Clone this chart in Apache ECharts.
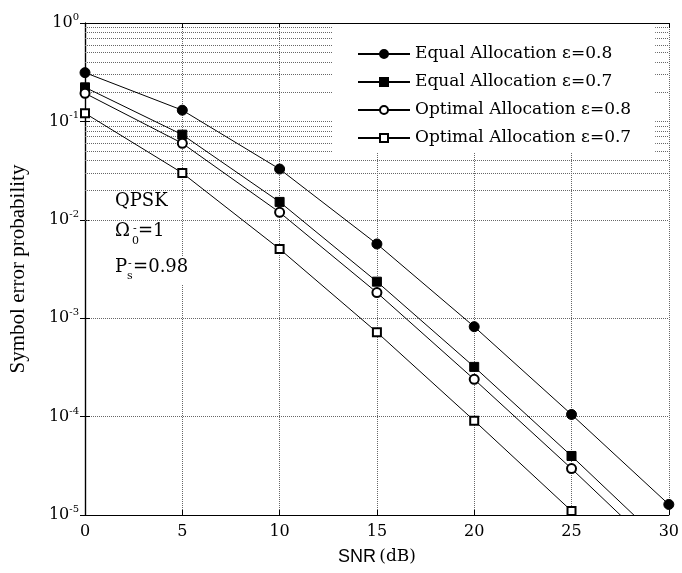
<!DOCTYPE html>
<html>
<head>
<meta charset="utf-8">
<script src="https://cdn.jsdelivr.net/npm/echarts@6/dist/echarts.min.js"></script>
<style>
  html, body { margin: 0; padding: 0; background: #fff; }
  #main { width: 682px; height: 573px; }
</style>
</head>
<body>
<div id="main"></div>
<script>
// SNR (dB) points
let snr = [0, 5, 10, 15, 20, 25, 30];
// values (below 1e-5 the lines are clipped by the axis)
let equal08 = [0.313, 0.13, 0.0328, 0.00568, 0.00082, 0.000105, 0.0000128];
let equal07 = [0.222, 0.0733, 0.0152, 0.00235, 0.00032, 0.0000398, 0.0000046];
let optimal08 = [0.193, 0.0599, 0.0119, 0.00182, 0.000239, 0.0000296, 0.0000034];
let optimal07 = [0.121, 0.0299, 0.00505, 0.00072, 0.000091, 0.000011, 0.0000012];
let names = ['Equal Allocation ε=0.8', 'Equal Allocation ε=0.7', 'Optimal Allocation ε=0.8', 'Optimal Allocation ε=0.7'];

let serif = '"DejaVu Serif", serif';
let serifNarrow = '"Liberation Serif", serif';

function pairs(ys) {
    let out = [];
    for (let i = 0; i < snr.length; i++) out.push([snr[i], ys[i]]);
    return out;
}

// minor grid lines 2..9 x 10^k
let minorLines = [];
for (let e = -5; e < 0; e++) {
    for (let k = 2; k <= 9; k++) minorLines.push({yAxis: k * Math.pow(10, e)});
}

function mkSeries(name, ys, symbol, size) {
    return {
        name: name,
        type: 'line',
        data: pairs(ys),
        symbol: symbol,
        symbolSize: size,
        showAllSymbol: true,
        clip: true,
        color: '#000',
        lineStyle: {color: '#000', width: 1},
        itemStyle: {color: '#000', borderColor: '#000', borderWidth: 1},
        z: 5
    };
}

let series = [
    mkSeries(names[0], equal08, 'circle', 10),
    mkSeries(names[1], equal07, 'rect', 9),
    mkSeries(names[2], optimal08, 'emptyCircle', 9),
    mkSeries(names[3], optimal07, 'emptyRect', 8)
];
series[0].markLine = {
    silent: true,
    symbol: 'none',
    label: {show: false},
    animation: false,
    lineStyle: {color: '#666', type: [1, 1], width: 1},
    data: minorLines,
    z: 1
};

function smallText(txt, x, y) {
    return {
        type: 'text', left: x, top: y, z: 21,
        style: {text: txt, fontFamily: serif, fontSize: 11, fill: '#000'}
    };
}

let myChart = echarts.init(document.getElementById('main'));
let option = {
    animation: false,
    backgroundColor: '#fff',
    grid: {left: 85, right: 9, top: 23, bottom: 58},
    legend: {
        orient: 'vertical',
        left: 333,
        top: 24,
        padding: [21, 24, 6, 24],
        itemGap: 10,
        itemWidth: 52,
        itemHeight: 10,
        backgroundColor: '#fff',
        borderWidth: 0,
        textStyle: {fontFamily: serif, fontSize: 17, lineHeight: 18, color: '#000'},
        data: names,
        z: 10
    },
    xAxis: [{
        type: 'value',
        min: 0,
        max: 30,
        interval: 5,
        name: '{a|SNR} {b|(dB)}',
        nameLocation: 'middle',
        nameGap: 33,
        nameTextStyle: {
            rich: {
                a: {fontFamily: '"Liberation Sans", Arial, sans-serif', fontSize: 18, color: '#000'},
                b: {fontFamily: serif, fontSize: 17, color: '#000'}
            }
        },
        axisLine: {lineStyle: {color: '#000', width: 1.2}},
        axisTick: {inside: true, length: 5, lineStyle: {color: '#000'}},
        axisLabel: {fontFamily: serif, fontSize: 16, color: '#000', margin: 9},
        splitLine: {show: true, lineStyle: {color: '#666', type: [1, 1], width: 1}}
    }, {
        type: 'value',
        position: 'top',
        min: 0,
        max: 30,
        interval: 5,
        axisLine: {show: true, lineStyle: {color: '#000', width: 1.2}},
        axisTick: {inside: true, length: 5, lineStyle: {color: '#000'}},
        axisLabel: {show: false},
        splitLine: {show: false}
    }],
    yAxis: [{
        type: 'log',
        logBase: 10,
        min: 1e-5,
        max: 1,
        name: 'Symbol error probability',
        nameLocation: 'middle',
        nameGap: 56,
        nameTextStyle: {fontFamily: serifNarrow, fontSize: 21, color: '#000'},
        axisLine: {show: true, lineStyle: {color: '#000', width: 1.2}},
        axisTick: {inside: true, length: 5, lineStyle: {color: '#000'}},
        axisLabel: {
            margin: 6,
            formatter: function (v) {
                let e = Math.round(Math.log10(v));
                return '{b|10}{s|' + e + '}';
            },
            rich: {
                b: {fontFamily: serif, fontSize: 16, color: '#000'},
                s: {fontFamily: serif, fontSize: 10, color: '#000', padding: [0, 0, 11, 0]}
            }
        },
        splitLine: {show: true, lineStyle: {color: '#666', type: [1, 1], width: 1}}
    }, {
        type: 'log',
        logBase: 10,
        min: 1e-5,
        max: 1,
        position: 'right',
        axisLine: {show: true, lineStyle: {color: '#000', width: 1.2}},
        axisTick: {inside: true, length: 5, lineStyle: {color: '#000'}},
        axisLabel: {show: false},
        splitLine: {show: false}
    }],
    graphic: [{
        type: 'text',
        left: 113,
        top: 191,
        z: 20,
        style: {
            text: 'QPSK',
            fontFamily: serif,
            fontSize: 18,
            fill: '#000',
            backgroundColor: '#fff',
            padding: [1, 2]
        }
    }, {
        type: 'text',
        left: 113,
        top: 221,
        z: 20,
        style: {
            text: '{m|Ω}{g|}{m|=1}',
            backgroundColor: '#fff',
            padding: [1, 2, 8, 2],
            rich: {
                m: {fontFamily: serif, fontSize: 18, fill: '#000'},
                g: {width: 8}
            }
        }
    },
    smallText('-', 133, 224),
    smallText('0', 132, 236),
    {
        type: 'text',
        left: 113,
        top: 257,
        z: 20,
        style: {
            text: '{m|P}{g|}{m|=0.98}',
            backgroundColor: '#fff',
            padding: [1, 2, 8, 2],
            rich: {
                m: {fontFamily: serif, fontSize: 18, fill: '#000'},
                g: {width: 6}
            }
        }
    },
    smallText('-', 128, 259),
    smallText('s', 127, 271)],
    series: series
};
myChart.setOption(option);
</script>
</body>
</html>
